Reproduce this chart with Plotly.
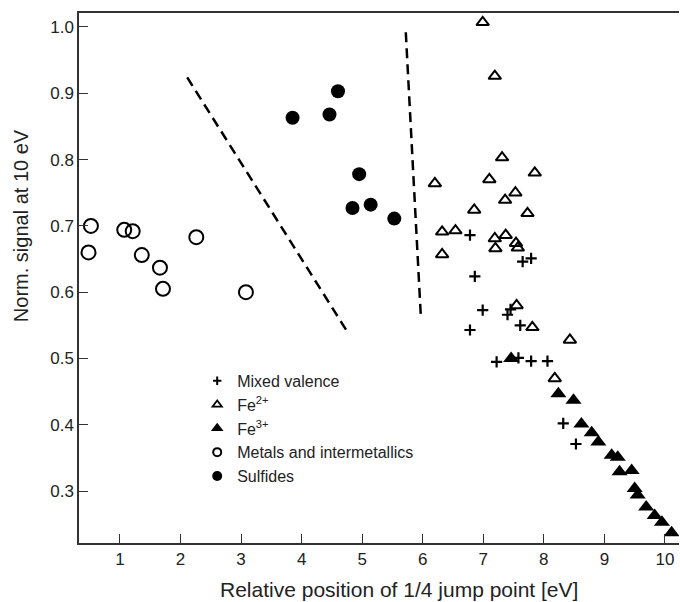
import plotly.graph_objects as go

# ---------------- data ----------------
mixed_x = [6.78, 7.65, 7.79, 6.86, 6.99, 7.40, 7.45, 7.61, 6.78, 7.22, 7.58, 7.79, 8.06, 8.32, 8.53]
mixed_y = [0.686, 0.646, 0.651, 0.624, 0.573, 0.566, 0.574, 0.550, 0.543, 0.495, 0.501, 0.496, 0.496, 0.402, 0.371]

fe2_x = [6.99, 7.19, 7.31, 6.20, 7.10, 7.85, 7.53, 7.36, 6.85, 7.73, 6.32, 6.54, 7.19, 7.37, 7.54, 7.20, 7.57, 6.32,
         7.55, 7.81, 8.43, 8.18]
fe2_y = [1.007, 0.926, 0.803, 0.764, 0.770, 0.780, 0.750, 0.739, 0.724, 0.719, 0.691, 0.693, 0.681, 0.686, 0.674, 0.666, 0.667, 0.657,
         0.580, 0.547, 0.528, 0.470]

fe3_x = [7.46, 8.24, 8.49, 8.62, 8.79, 8.90, 9.12, 9.22, 9.25, 9.45, 9.50, 9.55, 9.69, 9.83, 9.95, 10.11]
fe3_y = [0.500, 0.447, 0.437, 0.401, 0.388, 0.374, 0.354, 0.351, 0.329, 0.331, 0.304, 0.294, 0.276, 0.263, 0.253, 0.237]

metal_x = [0.48, 0.52, 1.07, 1.21, 1.36, 1.66, 1.71, 2.26, 3.08]
metal_y = [0.660, 0.700, 0.694, 0.692, 0.656, 0.637, 0.605, 0.683, 0.600]

sulf_x = [3.85, 4.46, 4.60, 4.95, 4.84, 5.14, 5.53]
sulf_y = [0.863, 0.868, 0.903, 0.778, 0.727, 0.732, 0.711]

# boundary (dashed) lines
bound1_x = [2.11, 4.75]
bound1_y = [0.924, 0.541]
bound2_x = [5.72, 5.97]
bound2_y = [0.992, 0.561]

x_ticks = [1, 2, 3, 4, 5, 6, 7, 8, 9, 10]
y_ticks = [0.3, 0.4, 0.5, 0.6, 0.7, 0.8, 0.9, 1.0]

legend_names = ["Mixed valence", "Fe<sup>2+</sup>", "Fe<sup>3+</sup>",
                "Metals and intermetallics", "Sulfides"]

# ---------------- figure ----------------
FONT = "Arial, 'Liberation Sans', Helvetica, sans-serif"
TXT = "#222222"
fig = go.Figure()

dash_line = dict(color="black", width=2.5, dash="10px,6px")
fig.add_trace(go.Scatter(x=bound1_x, y=bound1_y, mode="lines", line=dash_line,
                         showlegend=False, hoverinfo="skip"))
fig.add_trace(go.Scatter(x=bound2_x, y=bound2_y, mode="lines", line=dash_line,
                         showlegend=False, hoverinfo="skip"))

styles = [
    (mixed_x, mixed_y, dict(symbol="cross-thin-open", size=8, color="black",
                            line=dict(width=2.2, color="black"))),
    (fe2_x, fe2_y, dict(symbol="triangle-up-open", size=11, color="black",
                        line=dict(width=2, color="black"))),
    (fe3_x, fe3_y, dict(symbol="triangle-up", size=14, color="black",
                        line=dict(width=0, color="black"))),
    (metal_x, metal_y, dict(symbol="circle-open", size=14, color="black",
                            line=dict(width=2, color="black"))),
    (sulf_x, sulf_y, dict(symbol="circle", size=14, color="black",
                          line=dict(width=0, color="black"))),
]
legend_markers = [
    dict(symbol="cross-thin-open", size=6, color="black", line=dict(width=2, color="black")),
    dict(symbol="triangle-up-open", size=8, color="black", line=dict(width=1.8, color="black")),
    dict(symbol="triangle-up", size=11, color="black", line=dict(width=0)),
    dict(symbol="circle-open", size=8, color="black", line=dict(width=2, color="black")),
    dict(symbol="circle", size=10, color="black", line=dict(width=0)),
]

for (xs, ys, mk), name, lmk in zip(styles, legend_names, legend_markers):
    fig.add_trace(go.Scatter(x=xs, y=ys, mode="markers", marker=mk,
                             name=name, showlegend=False))
    fig.add_trace(go.Scatter(x=[None], y=[None], mode="markers", marker=lmk,
                             name=name, showlegend=True, legendgroup=name))

axis_common = dict(
    showline=True, linecolor="#333333", linewidth=1.5,
    ticks="inside", ticklen=9, tickwidth=1.3, tickcolor="#333333",
    showgrid=False, zeroline=False,
    tickfont=dict(family=FONT, size=17, color=TXT),
)

fig.update_xaxes(range=[0.323, 10.232], tickvals=x_ticks,
                 ticktext=[str(t) for t in x_ticks], mirror=True, **axis_common)
fig.update_yaxes(range=[0.2217, 1.0211], tickvals=y_ticks,
                 ticktext=[f"{t:.1f}" for t in y_ticks], **axis_common)

fig.add_annotation(text="Relative position of 1/4 jump point [eV]",
                   xref="paper", yref="paper", x=0.533, y=-0.087,
                   xanchor="center", yanchor="middle", showarrow=False,
                   font=dict(family=FONT, size=21, color=TXT))
fig.add_annotation(text="Norm. signal at 10 eV",
                   xref="paper", yref="paper", x=-0.0965, y=0.598,
                   xanchor="center", yanchor="middle", showarrow=False, textangle=-90,
                   font=dict(family=FONT, size=20, color=TXT))

fig.update_layout(
    width=680, height=602,
    margin=dict(l=79, r=1, t=13, b=59),
    paper_bgcolor="white", plot_bgcolor="white",
    font=dict(family=FONT, color=TXT),
    legend=dict(x=0.197, y=0.338, xanchor="left", yanchor="top",
                bgcolor="rgba(0,0,0,0)", font=dict(family=FONT, size=16, color=TXT),
                itemsizing="trace", tracegroupgap=0),
)

fig.write_html("out.html")
